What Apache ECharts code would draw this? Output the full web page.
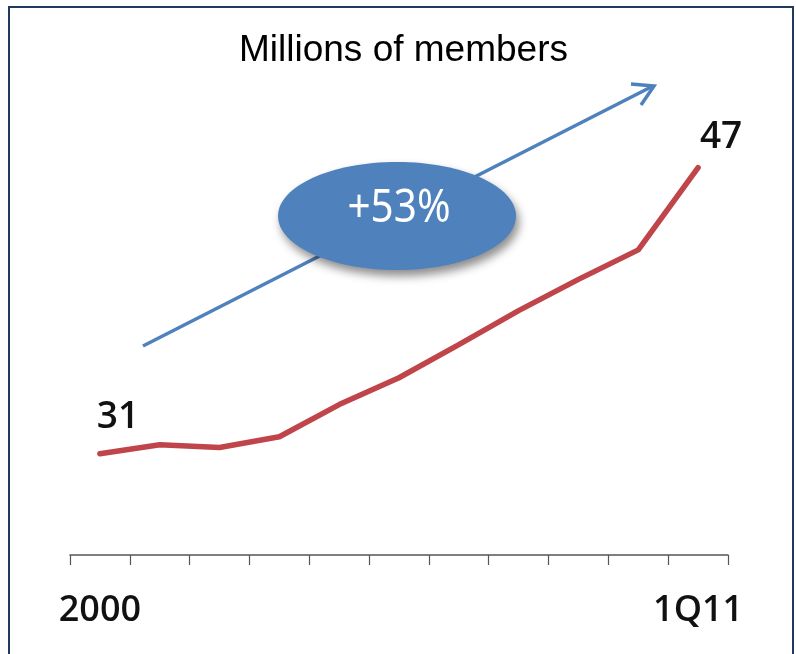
<!DOCTYPE html>
<html>
<head>
<meta charset="utf-8">
<script src="https://cdn.jsdelivr.net/npm/echarts@6/dist/echarts.min.js"></script>
<style>
  html, body { margin: 0; padding: 0; background: #ffffff; }
  #chart { width: 796px; height: 654px; }
</style>
</head>
<body>
<div id="chart"></div>
<script>
// Member count (millions), one point per period
const categories = ['2000', '2001', '2002', '2003', '2004', '2005', '2006', '2007', '2008', '2009', '1Q11'];
const members = [31, 31.5, 31.35, 31.95, 33.75, 35.25, 37.1, 39.0, 40.75, 42.4, 47];
const shownLabels = ['2000', '1Q11'];
const titleText = 'Millions of members';
const growthText = '+53%';

const chart = echarts.init(document.getElementById('chart'), null, { renderer: 'canvas' });

const lastIdx = members.length - 1;
const seriesData = members.map(function (v, i) {
  if (i === 0) {
    return { value: v, label: { show: true, position: 'top', offset: [18, -12] } };
  }
  if (i === lastIdx) {
    return { value: v, label: { show: true, position: 'top', offset: [23, -6] } };
  }
  return v;
});

const blue = '#4F81BD';
const red = '#C0454B';

chart.setOption({
  animation: false,
  backgroundColor: '#ffffff',
  grid: { left: 70, right: 68, top: 114, bottom: 93 },
  xAxis: {
    type: 'category',
    data: categories,
    boundaryGap: true,
    offset: -6,
    axisLine: { show: true, lineStyle: { color: '#555555', width: 1.5 } },
    axisTick: { show: true, length: 10, alignWithLabel: false, lineStyle: { color: '#555555', width: 1.2 } },
    axisLabel: {
      interval: 0,
      margin: 38,
      formatter: function (v) { return shownLabels.indexOf(v) >= 0 ? v : ''; },
      fontFamily: 'Open Sans',
      fontWeight: 600,
      fontSize: 36,
      color: '#111111'
    },
    splitLine: { show: false }
  },
  yAxis: {
    type: 'value',
    min: 25,
    max: 50,
    show: false
  },
  series: [{
    type: 'line',
    data: seriesData,
    symbol: 'circle',
    symbolSize: 1,
    showSymbol: true,
    itemStyle: { color: red },
    smooth: false,
    lineStyle: { color: red, width: 5.5, cap: 'round', join: 'round' },
    label: {
      show: false,
      fontFamily: 'Open Sans',
      fontWeight: 600,
      fontSize: 37,
      color: '#111111'
    },
    z: 3
  }],
  graphic: [
    // outer frame
    {
      type: 'rect',
      shape: { x: 9, y: 7, width: 784, height: 660 },
      style: { fill: 'none', stroke: '#1F3A5F', lineWidth: 2 },
      z: 1
    },
    {
      type: 'text',
      left: 239,
      top: 32,
      style: {
        text: titleText,
        fontFamily: 'Liberation Sans',
        fontSize: 37,
        fill: '#000000'
      },
      z: 5
    },
    // trend arrow
    {
      type: 'line',
      shape: { x1: 143, y1: 346, x2: 653, y2: 86 },
      style: { stroke: blue, lineWidth: 3.5 },
      z: 5
    },
    {
      type: 'polyline',
      shape: { points: [[631, 84], [654, 86], [641, 105]] },
      style: { stroke: blue, lineWidth: 3.5, fill: 'none', lineJoin: 'miter' },
      z: 5
    },
    // growth badge
    {
      type: 'ellipse',
      shape: { cx: 397, cy: 216, rx: 119, ry: 54 },
      style: {
        fill: blue,
        shadowBlur: 10,
        shadowOffsetX: 3,
        shadowOffsetY: 6,
        shadowColor: 'rgba(0,0,0,0.45)'
      },
      z: 10
    },
    {
      type: 'text',
      x: 399,
      y: 209,
      scaleX: 0.88,
      style: {
        text: growthText,
        fontFamily: 'Noto Sans',
        fontSize: 46,
        fill: '#ffffff',
        align: 'center',
        verticalAlign: 'middle'
      },
      z: 11
    }
  ]
});
</script>
</body>
</html>
